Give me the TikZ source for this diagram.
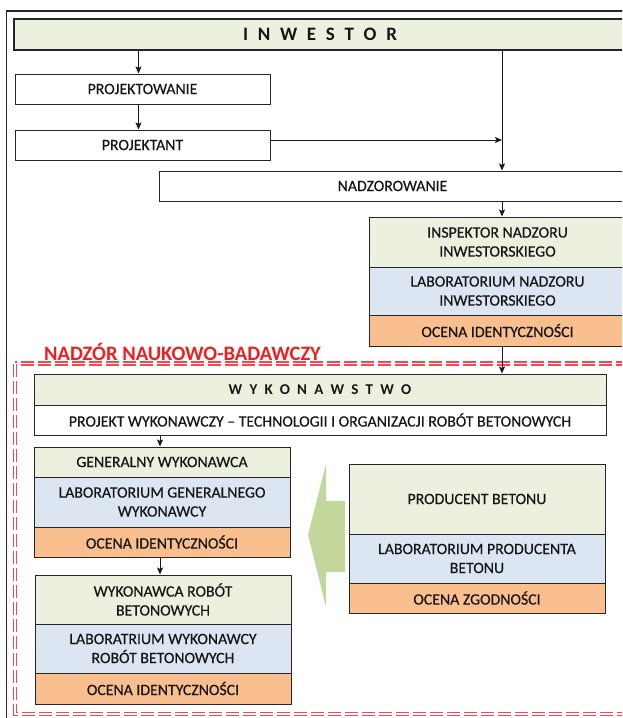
\documentclass[tikz,border=0pt]{standalone}
\usepackage{fontspec}
\setmainfont{Carlito}[FakeBold=0.35]
\newfontfamily\titlefont{Carlito}
\usetikzlibrary{arrows.meta}
\definecolor{cgreen}{HTML}{EBF1DE}
\definecolor{cblue}{HTML}{DCE6F2}
\definecolor{corange}{HTML}{F9BF8F}
\definecolor{carrow}{HTML}{C3D69B}
\definecolor{cred}{HTML}{F24A4A}
\definecolor{ctitle}{HTML}{F01E1E}
\definecolor{ctext}{HTML}{151515}
\begin{document}
\begin{tikzpicture}[x=1pt,y=-1pt,
  box/.style={draw=black!85, line width=1pt, inner sep=0pt, align=center, text=ctext,
    font=\fontsize{15.8}{19}\selectfont},
  arr/.style={-{Stealth[length=7pt,width=6pt,inset=1.5pt]}, line width=1pt, black!90}]
\useasboundingbox (0,0) rectangle (622,718);
\clip (0,0) rectangle (622,718);
% outer frame
\draw[black!85, line width=1.2pt] (6.5,730) -- (6.5,11) -- (640,11);
% red double dashed frame
\draw[cred, line width=1.6pt, double=white, double distance=1.6pt, dash pattern=on 13pt off 4pt]
  (15,363.5) rectangle (660,714);
\node[anchor=base, text=ctitle, font=\titlefont\fontsize{20.5}{24}\selectfont\bfseries] (title) at (182.5,360) {NADZÓR NAUKOWO-BADAWCZY};
% top part
\node[box, fill=cgreen, line width=1.4pt, minimum width=612, minimum height=31,
  font=\titlefont\fontsize{19}{22}\selectfont\bfseries] (inw) at (320,34.5)
  {I\hskip9.7pt N\hskip9.7pt W\hskip9.7pt E\hskip9.7pt S\hskip9.7pt T\hskip9.7pt O\hskip9.7pt R};
\node[box, fill=white, minimum width=255, minimum height=30] (proj) at (142.5,89) {PROJEKTOWANIE};
\node[box, fill=white, minimum width=255, minimum height=30] (pjt) at (142.5,145) {PROJEKTANT};
\node[box, fill=white, minimum width=467, minimum height=30] (nadz) at (392.5,186) {NADZOROWANIE};
\node[box, fill=cgreen, minimum width=257, minimum height=50] (insp1) at (497.5,242) {INSPEKTOR NADZORU\\INWESTORSKIEGO};
\node[box, fill=cblue, minimum width=257, minimum height=48] (insp2) at (497.5,291) {LABORATORIUM NADZORU\\INWESTORSKIEGO};
\node[box, fill=corange, minimum width=257, minimum height=31] (insp3) at (497.5,330.5) {OCENA IDENTYCZNOŚCI};
% lower part
\node[box, fill=cgreen, minimum width=572, minimum height=31,
  font=\titlefont\fontsize{15}{17}\selectfont\bfseries] (wyk1) at (320,389.5)
  {W\hskip7.2pt Y\hskip7.2pt K\hskip7.2pt O\hskip7.2pt N\hskip7.2pt A\hskip7.2pt W\hskip7.2pt S\hskip7.2pt T\hskip7.2pt W\hskip7.2pt O};
\node[box, fill=white, minimum width=572, minimum height=30] (wyk2) at (320,420) {PROJEKT WYKONAWCZY – TECHNOLOGII I ORGANIZACJI ROBÓT BETONOWYCH};
\node[box, fill=cgreen, minimum width=256, minimum height=30] (gen1) at (162,462) {GENERALNY WYKONAWCA};
\node[box, fill=cblue, minimum width=256, minimum height=50] (gen2) at (162,502) {LABORATORIUM GENERALNEGO\\WYKONAWCY};
\node[box, fill=corange, minimum width=256, minimum height=30] (gen3) at (162,542) {OCENA IDENTYCZNOŚCI};
\node[box, fill=cgreen, minimum width=256, minimum height=49] (wrb1) at (163,599.5) {WYKONAWCA ROBÓT\\BETONOWYCH};
\node[box, fill=cblue, minimum width=256, minimum height=49] (wrb2) at (163,648.5) {LABORATRIUM WYKONAWCY\\ROBÓT BETONOWYCH};
\node[box, fill=corange, minimum width=256, minimum height=31] (wrb3) at (163,688.5) {OCENA IDENTYCZNOŚCI};
\node[box, fill=cgreen, minimum width=256, minimum height=70] (prod1) at (477,499) {PRODUCENT BETONU};
\node[box, fill=cblue, minimum width=256, minimum height=49] (prod2) at (477,558.5) {LABORATORIUM PRODUCENTA\\BETONU};
\node[box, fill=corange, minimum width=256, minimum height=30] (prod3) at (477,598) {OCENA ZGODNOŚCI};
% block arrow
\fill[carrow] (308,535) -- (326,464) -- (326,501) -- (345,501) -- (345,572) -- (326,572) -- (326,607) -- cycle;
% connectors
\coordinate (lx) at (138.5,0);
\coordinate (jx) at (502,140);
\coordinate (gx) at (160,0);
\draw[arr] (inw.south -| lx) -- (proj.north -| lx);
\draw[arr] (proj.south -| lx) -- (pjt.north -| lx);
\draw[arr] (pjt.east |- jx) -- (jx);
\draw[arr] (inw.south -| jx) -- (nadz.north -| jx);
\draw[arr] (nadz.south -| jx) -- (insp1.north -| jx);
\draw[arr] (insp3.south -| jx) -- (wyk1.north -| jx);
\draw[arr] (wyk2.south -| gx) -- (gen1.north -| gx);
\draw[arr] (gen3.south -| gx) -- (wrb1.north -| gx);
\end{tikzpicture}
\end{document}
